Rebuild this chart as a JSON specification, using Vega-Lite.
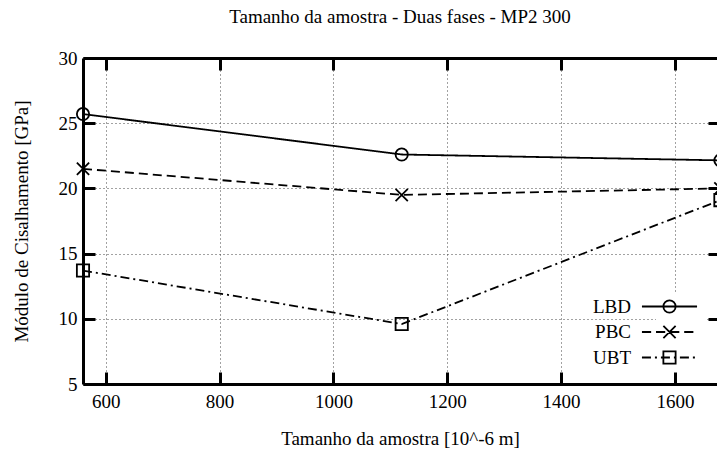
{
  "$schema": "https://vega.github.io/schema/vega-lite/v6.json",
  "autosize": "none",
  "width": 634,
  "height": 326,
  "padding": {"left": 83, "top": 58, "right": 0, "bottom": 79},
  "background": "white",
  "title": {
    "text": "Tamanho da amostra - Duas fases - MP2 300",
    "font": "Liberation Serif",
    "fontSize": 19,
    "fontWeight": "normal",
    "color": "black",
    "anchor": "middle",
    "offset": 22
  },
  "config": {
    "view": {"stroke": null},
    "font": "Liberation Serif",
    "style": {
      "guide-label": {"font": "Liberation Serif", "fill": "black"},
      "guide-title": {"font": "Liberation Serif", "fill": "black"}
    },
    "legend": {"labelFont": "Liberation Serif"},
    "axis": {
      "labelFont": "Liberation Serif",
      "labelFontSize": 19,
      "labelColor": "black",
      "titleFont": "Liberation Serif",
      "titleFontSize": 19,
      "titleFontWeight": "normal",
      "titleColor": "black",
      "domainColor": "black",
      "domainWidth": 3,
      "tickColor": "black",
      "tickWidth": 3,
      "gridColor": "#444444",
      "gridDash": [1, 3],
      "gridWidth": 1
    }
  },
  "data": {
    "values": [
      {"series": "LBD", "size": 560, "gpa": 25.7},
      {"series": "LBD", "size": 1120, "gpa": 22.6},
      {"series": "LBD", "size": 1680, "gpa": 22.15},
      {"series": "PBC", "size": 560, "gpa": 21.5},
      {"series": "PBC", "size": 1120, "gpa": 19.5},
      {"series": "PBC", "size": 1680, "gpa": 20.0},
      {"series": "UBT", "size": 560, "gpa": 13.7},
      {"series": "UBT", "size": 1120, "gpa": 9.6},
      {"series": "UBT", "size": 1680, "gpa": 19.1}
    ]
  },
  "layer": [
    {
      "mark": {"type": "line", "color": "black", "strokeWidth": 1.8},
      "encoding": {
        "x": {
          "field": "size",
          "type": "quantitative",
          "scale": {"domain": [560, 1674], "nice": false, "zero": false},
          "axis": {
            "orient": "bottom",
            "title": "Tamanho da amostra [10^-6 m]",
            "values": [600, 800, 1000, 1200, 1400, 1600],
            "format": "d",
            "grid": true,
            "tickSize": -12,
            "labelPadding": 20,
            "labelFont": "Liberation Serif",
            "titlePadding": 18
          }
        },
        "y": {
          "field": "gpa",
          "type": "quantitative",
          "scale": {"domain": [5, 30], "nice": false, "zero": false},
          "axis": {
            "orient": "left",
            "title": "Módulo de Cisalhamento [GPa]",
            "values": [5, 10, 15, 20, 25, 30],
            "format": "d",
            "grid": true,
            "tickSize": -12,
            "labelPadding": 18,
            "labelFont": "Liberation Serif",
            "titlePadding": 27
          }
        },
        "strokeDash": {
          "field": "series",
          "type": "nominal",
          "scale": {"domain": ["LBD", "PBC", "UBT"], "range": [[1, 0], [9, 5], [9, 4, 2, 4]]},
          "legend": null
        }
      }
    },
    {
      "mark": {"type": "point", "filled": false, "color": "black", "strokeWidth": 1.8, "size": 150, "opacity": 1},
      "encoding": {
        "x": {
          "field": "size",
          "type": "quantitative",
          "scale": {"domain": [560, 1674], "nice": false, "zero": false},
          "axis": {
            "orient": "top",
            "title": null,
            "labels": false,
            "values": [600, 800, 1000, 1200, 1400, 1600],
            "grid": false,
            "tickSize": -12
          }
        },
        "y": {
          "field": "gpa",
          "type": "quantitative",
          "scale": {"domain": [5, 30], "nice": false, "zero": false},
          "axis": {
            "orient": "right",
            "title": null,
            "labels": false,
            "domain": false,
            "values": [5, 10, 15, 20, 25, 30],
            "grid": false,
            "tickSize": -9
          }
        },
        "shape": {
          "field": "series",
          "type": "nominal",
          "scale": {
            "domain": ["LBD", "PBC", "UBT"],
            "range": ["circle", "M-1,-1L1,1M-1,1L1,-1", "square"]
          },
          "legend": null
        }
      }
    },
    {
      "transform": [{"filter": "false"}],
      "mark": {"type": "point", "filled": false, "color": "black", "strokeWidth": 1.8, "size": 150},
      "encoding": {
        "x": {"field": "size", "type": "quantitative", "scale": {"domain": [560, 1674], "nice": false, "zero": false}, "axis": null},
        "y": {"field": "gpa", "type": "quantitative", "scale": {"domain": [5, 30], "nice": false, "zero": false}, "axis": null},
        "shape": {
          "field": "series",
          "type": "nominal",
          "scale": {
            "domain": ["LBD", "PBC", "UBT"],
            "range": [
              "M-4.5,0H4.5M1,0A1,1 0 1,1 -1,0A1,1 0 1,1 1,0Z",
              "M-4.5,0H-3M-2.2,0H-0.7M0.1,0H1.6M2.4,0H3.9M-1,-1L1,1M-1,1L1,-1",
              "M-4.5,0H-3.03M-2.38,0H-2.05M-1.4,0H0.07M0.72,0H1.05M1.7,0H3.17M3.82,0H4.15M-1,-1H1V1H-1Z"
            ]
          },
          "legend": {
            "title": null,
            "orient": "bottom-right",
            "offset": 12,
            "labelAlign": "right",
            "labelOffset": -48,
            "labelFont": "Liberation Serif",
            "labelFontSize": 19,
            "labelColor": "black",
            "symbolSize": 150,
            "symbolStrokeWidth": 1.8,
            "symbolStrokeColor": "black",
            "symbolFillColor": "transparent",
            "symbolOpacity": 1,
            "rowPadding": 4.5,
            "fillColor": "white",
            "padding": 4
          }
        }
      }
    }
  ],
  "resolve": {
    "axis": {"x": "independent", "y": "independent"},
    "scale": {"shape": "independent"}
  }
}
